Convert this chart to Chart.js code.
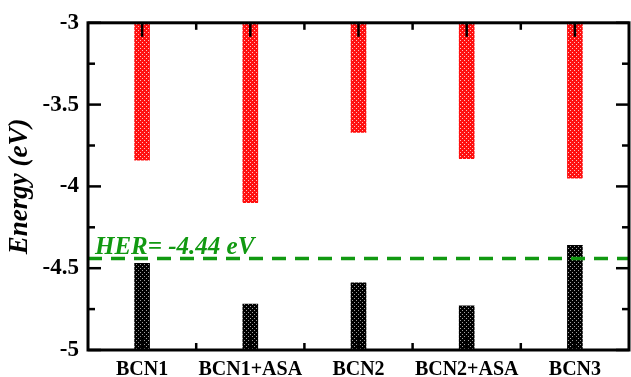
<!DOCTYPE html>
<html><head><meta charset="utf-8">
<style>html,body{margin:0;padding:0;background:#fff;}#wrap{width:631px;height:377px;}</style>
<script src="https://cdn.jsdelivr.net/npm/chart.js@4/dist/chart.umd.min.js"></script>
</head><body><div id="wrap"><canvas id="c" width="631" height="377"></canvas></div>
<script>
const categories = ['BCN1', 'BCN1+ASA', 'BCN2', 'BCN2+ASA', 'BCN3'];
const cbmValues = [-3.84, -4.10, -3.67, -3.83, -3.95];
const vbmValues = [-4.47, -4.72, -4.59, -4.73, -4.36];
const axisTop = -3;
const axisBottom = -5;
const yTickValues = [-5, -4.5, -4, -3.5, -3];
const yTickLabels = ['-5', '-4.5', '-4', '-3.5', '-3'];
const herLevel = -4.44;
const herLabel = 'HER= -4.44 eV';
const yTitle = 'Energy (eV)';

const FONT = '"Liberation Serif", "Times New Roman", serif';

function makePattern(base, dot) {
  const c = document.createElement('canvas');
  c.width = 4; c.height = 4;
  const g = c.getContext('2d');
  g.fillStyle = base; g.fillRect(0, 0, 4, 4);
  g.fillStyle = dot;
  g.fillRect(0, 0, 1, 1);
  g.fillRect(2, 2, 1, 1);
  return g.createPattern(c, 'repeat');
}
const redFill = makePattern('#ff1010', '#ffc0c0');
const blackFill = makePattern('#000000', '#a0a0a0');

const framePlugin = {
  id: 'frame',
  afterDatasetsDraw(chart) {
    const ctx = chart.ctx;
    const ya = chart.scales.y, xa = chart.scales.x;
    const {left, right, top, bottom} = chart.chartArea;
    ctx.save();
    const yh = ya.getPixelForValue(herLevel);
    ctx.strokeStyle = '#119911';
    ctx.lineWidth = 3.5;
    ctx.setLineDash([14, 9]);
    ctx.beginPath(); ctx.moveTo(left, yh); ctx.lineTo(right, yh); ctx.stroke();
    ctx.setLineDash([]);
    ctx.fillStyle = '#119911';
    ctx.font = 'italic bold 25px ' + FONT;
    ctx.textBaseline = 'alphabetic';
    ctx.textAlign = 'left';
    ctx.fillText(herLabel, left + 7, yh - 4);
    ctx.strokeStyle = '#000';
    ctx.lineWidth = 2.5;
    const line = (x1, y1, x2, y2) => { ctx.beginPath(); ctx.moveTo(x1, y1); ctx.lineTo(x2, y2); ctx.stroke(); };
    for (let k = 0; k < yTickValues.length; k++) {
      const y = ya.getPixelForValue(yTickValues[k]);
      line(left, y, left + 13, y);
      line(right, y, right - 13, y);
      if (k < yTickValues.length - 1) {
        const ym = (y + ya.getPixelForValue(yTickValues[k + 1])) / 2;
        line(left, ym, left + 7, ym);
        line(right, ym, right - 7, ym);
      }
    }
    for (let i = 0; i < categories.length; i++) {
      const x = xa.getPixelForValue(i);
      line(x, top, x, top + 14);
      line(x, bottom, x, bottom - 14);
      if (i < categories.length - 1) {
        const xm = (x + xa.getPixelForValue(i + 1)) / 2;
        line(xm, top, xm, top + 7);
        line(xm, bottom, xm, bottom - 7);
      }
    }
    ctx.lineWidth = 3;
    ctx.strokeRect(left, top, right - left, bottom - top);
    ctx.restore();
  }
};

new Chart(document.getElementById('c'), {
  type: 'bar',
  data: {
    labels: categories,
    datasets: [
      { label: 'CBM', data: cbmValues.map(v => [axisTop, v]), backgroundColor: redFill, borderWidth: 0, barThickness: 15, grouped: false },
      { label: 'VBM', data: vbmValues.map(v => [axisBottom, v]), backgroundColor: blackFill, borderWidth: 0, barThickness: 15, grouped: false }
    ]
  },
  options: {
    responsive: false,
    animation: false,
    layout: { padding: { top: 22, right: 2, left: 0, bottom: 0 } },
    plugins: { legend: { display: false }, tooltip: { enabled: false } },
    scales: {
      x: {
        offset: true,
        grid: { display: false, drawTicks: false },
        border: { display: false },
        ticks: { color: '#000', font: { family: FONT, size: 20, weight: 'bold' }, padding: 8, maxRotation: 0 },
        afterFit(s) { s.height = 27; }
      },
      y: {
        min: axisBottom, max: axisTop,
        grid: { display: false, drawTicks: false },
        border: { display: false },
        afterBuildTicks(s) { s.ticks = yTickValues.map(v => ({ value: v })); },
        ticks: {
          color: '#000', font: { family: FONT, size: 23, weight: 'bold' }, padding: 9,
          callback(value) { const i = yTickValues.indexOf(value); return i >= 0 ? yTickLabels[i] : ''; }
        },
        title: { display: true, text: yTitle, color: '#000', font: { family: FONT, size: 27, weight: 'bold', style: 'italic' }, padding: { top: 4, bottom: 0 } },
        afterFit(s) { s.width = 88; }
      }
    }
  },
  plugins: [framePlugin]
});
</script>
</body></html>
